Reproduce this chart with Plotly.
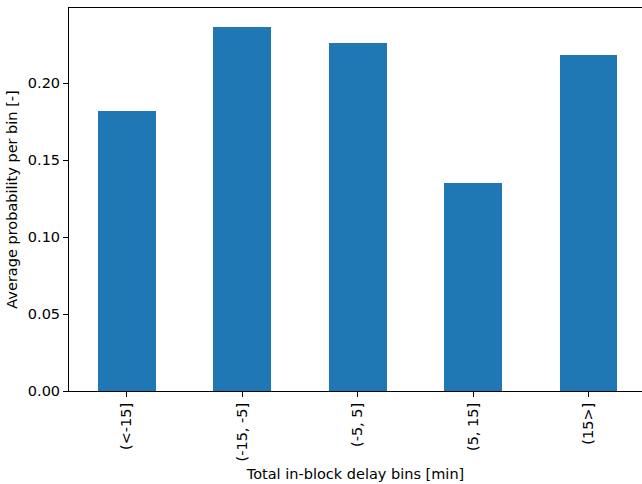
import plotly.graph_objects as go

categories = ["(<-15]", "(-15, -5]", "(-5, 5]", "(5, 15]", "(15>]"]
values = [0.182, 0.2366, 0.2262, 0.1351, 0.2182]
y_ticks = [0.00, 0.05, 0.10, 0.15, 0.20]
y_tick_labels = ["0.00", "0.05", "0.10", "0.15", "0.20"]

fig = go.Figure()
fig.add_trace(go.Bar(
    x=list(range(len(categories))),
    y=values,
    width=0.5,
    marker=dict(color="#1f77b4", line=dict(width=0)),
))

font = dict(family="DejaVu Sans", size=14.5, color="black")
fig.update_layout(
    width=642, height=484,
    margin=dict(l=69, r=0, t=8, b=93, autoexpand=False),
    plot_bgcolor="white", paper_bgcolor="white",
    font=font,
    showlegend=False,
    bargap=0,
    xaxis=dict(
        range=[-0.5, 4.463],
        tickmode="array",
        tickvals=list(range(len(categories))),
        ticktext=categories,
        tickangle=-90,
        ticks="outside", ticklen=5, tickwidth=1, tickcolor="black",
        showline=True, linecolor="black", linewidth=1, mirror=True,
        showgrid=False, zeroline=False, automargin=False,
        title=dict(text="Total in-block delay bins [min]", standoff=8, font=font),
    ),
    yaxis=dict(
        range=[0, 0.2488],
        tickmode="array",
        tickvals=y_ticks,
        ticktext=y_tick_labels,
        ticks="outside", ticklen=5, tickwidth=1, tickcolor="black",
        showline=True, linecolor="black", linewidth=1,
        showgrid=False, zeroline=False, automargin=False,
        title=dict(text="Average probability per bin [-]", standoff=6, font=font),
    ),
)
fig.write_html(
    "out.html",
    config={"displayModeBar": False},
    post_script="document.body.style.margin='0';document.body.style.overflow='hidden';",
)
